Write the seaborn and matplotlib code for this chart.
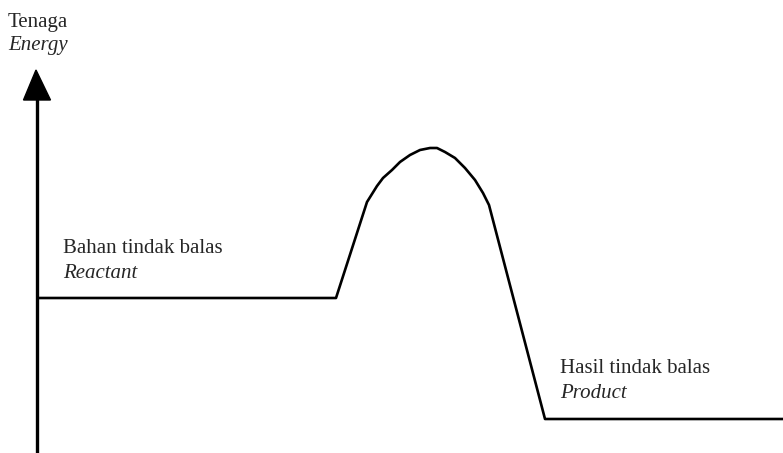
import seaborn as sns
import matplotlib.pyplot as plt
import pandas as pd

# Energy profile points (x position, energy level)
profile_x = [38, 336, 367, 372, 377, 383, 392, 400, 410, 420, 430, 437,
             445, 455, 465, 475, 483, 489, 545, 783]
profile_energy = [155, 155, 251, 259, 267, 275, 283, 291, 298, 303, 305, 305,
                  301, 295, 285, 273, 260, 248, 34, 34]

axis_x = 37
axis_bottom = 0
axis_top = 383

labels = {
    "y_main": "Tenaga",
    "y_sub": "Energy",
    "reactant_main": "Bahan tindak balas",
    "reactant_sub": "Reactant",
    "product_main": "Hasil tindak balas",
    "product_sub": "Product",
}

sns.set_style("white")
plt.rcParams['font.family'] = ['Liberation Serif', 'DejaVu Serif']

fig = plt.figure(figsize=(7.83, 4.53), dpi=100)
ax = fig.add_axes([0, 0, 1, 1])

df = pd.DataFrame({"x": profile_x, "energy": profile_energy})
sns.lineplot(data=df, x="x", y="energy", sort=False, color="black",
             linewidth=1.9, ax=ax, solid_joinstyle="round")

# vertical energy axis with filled arrow head
ax.plot([axis_x, axis_x], [axis_bottom, axis_top - 25], color="black", linewidth=2.4)
ax.fill([axis_x - 13.5, axis_x + 13.5, axis_x - 1],
        [axis_top - 30, axis_top - 30, axis_top], color="black")

fs = 15
ax.text(8, 453 - 27, labels["y_main"], fontsize=fs, va="baseline")
ax.text(8, 453 - 50, labels["y_sub"], fontsize=fs, style="italic", va="baseline")
ax.text(63, 453 - 253, labels["reactant_main"], fontsize=fs, va="baseline")
ax.text(63, 453 - 278, labels["reactant_sub"], fontsize=fs, style="italic", va="baseline")
ax.text(560, 453 - 373, labels["product_main"], fontsize=fs, va="baseline")
ax.text(560, 453 - 398, labels["product_sub"], fontsize=fs, style="italic", va="baseline")

ax.set_xlim(0, 783)
ax.set_ylim(0, 453)
ax.axis("off")

plt.savefig("out.png", dpi=100)
